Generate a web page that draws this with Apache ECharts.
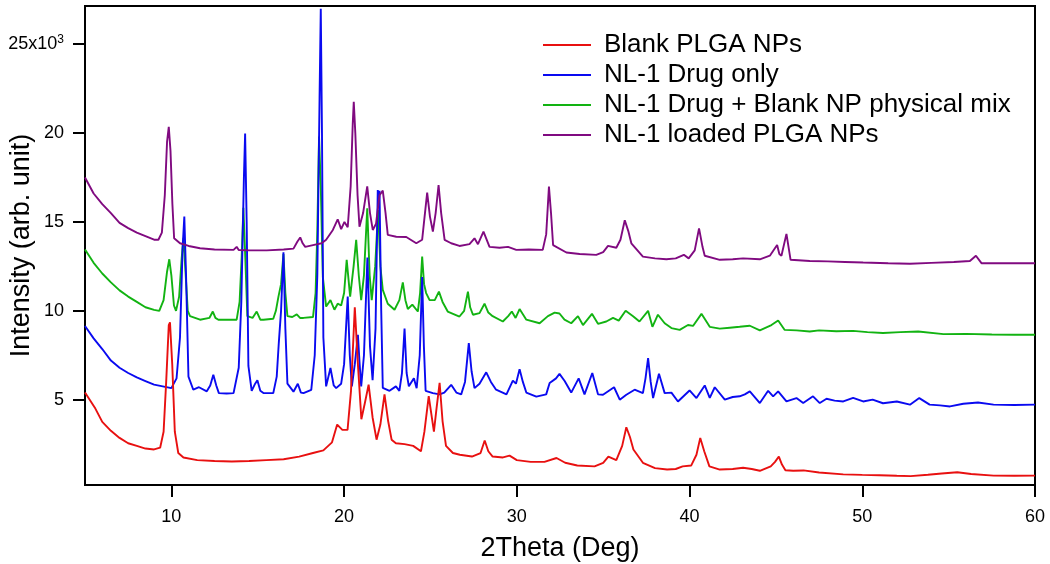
<!DOCTYPE html>
<html>
<head>
<meta charset="utf-8">
<script src="https://cdn.jsdelivr.net/npm/echarts@6/dist/echarts.min.js"></script>
<style>
html,body{margin:0;padding:0;background:#fff;}
#chart{width:1050px;height:564px;}
</style>
</head>
<body>
<div id="chart"></div>
<script>
// 2Theta (deg), intensity (x10^3 counts)
const blankPLGA = [[5,5.4],[5.3,4.95],[5.6,4.5],[6.0,3.75],[6.5,3.25],[7.0,2.85],[7.5,2.55],[8.0,2.4],[8.5,2.25],[9.0,2.2],[9.35,2.3],[9.55,3.2],[9.7,6.0],[9.85,9.2],[9.92,9.35],[10.05,7.0],[10.2,3.2],[10.4,2.0],[10.7,1.75],[11.5,1.6],[12.5,1.55],[13.5,1.52],[14.5,1.55],[15.5,1.6],[16.5,1.65],[17.4,1.8],[18.2,2.0],[18.8,2.15],[19.3,2.6],[19.6,3.6],[19.9,3.3],[20.2,3.3],[20.4,5.5],[20.62,10.2],[20.8,7.0],[21.0,3.9],[21.2,4.8],[21.42,5.85],[21.65,4.0],[21.88,2.75],[22.1,3.6],[22.34,5.3],[22.55,3.8],[22.75,2.75],[23.0,2.55],[23.5,2.5],[24.0,2.4],[24.45,2.1],[24.65,3.2],[24.9,5.2],[25.05,4.2],[25.2,3.2],[25.35,4.5],[25.53,5.95],[25.7,3.8],[25.9,2.4],[26.3,2.0],[26.7,1.9],[27.4,1.8],[27.9,2.0],[28.14,2.7],[28.35,2.1],[28.6,1.8],[29.2,1.75],[29.58,1.85],[30.0,1.6],[30.8,1.5],[31.6,1.5],[32.3,1.72],[32.8,1.45],[33.5,1.3],[34.5,1.25],[35.0,1.45],[35.3,1.8],[35.76,1.6],[36.1,2.4],[36.34,3.45],[36.55,2.9],[36.75,2.2],[37.3,1.45],[38.0,1.15],[38.7,1.07],[39.2,1.1],[39.6,1.25],[40.1,1.3],[40.4,1.9],[40.62,2.85],[40.85,2.1],[41.15,1.25],[41.75,1.07],[42.5,1.1],[43.1,1.17],[43.6,1.1],[44.07,1.0],[44.7,1.25],[44.95,1.5],[45.17,1.8],[45.35,1.35],[45.55,1.03],[46.0,1.0],[46.6,1.02],[47.5,0.9],[48.9,0.8],[50.0,0.77],[51.0,0.75],[52.0,0.72],[52.8,0.7],[53.8,0.78],[54.6,0.85],[55.5,0.92],[56.3,0.82],[57.6,0.73],[58.8,0.72],[60,0.73]];

const drugOnly = [[5,9.15],[5.5,8.45],[6.0,7.85],[6.5,7.2],[7.0,6.8],[7.5,6.5],[8.0,6.25],[8.5,6.05],[9.0,5.85],[9.5,5.75],[10.0,5.65],[10.3,6.2],[10.5,8.5],[10.65,13.5],[10.75,15.3],[10.85,12.0],[10.99,6.3],[11.27,5.56],[11.6,5.7],[12.05,5.47],[12.25,5.8],[12.43,6.4],[12.6,5.8],[12.75,5.37],[13.2,5.35],[13.6,5.37],[13.9,6.8],[14.05,10.5],[14.2,17.5],[14.27,19.98],[14.36,15.0],[14.46,6.9],[14.65,5.5],[14.85,5.9],[14.98,6.1],[15.15,5.5],[15.33,5.37],[15.9,5.37],[16.1,6.3],[16.22,8.2],[16.35,10.0],[16.49,13.3],[16.6,9.0],[16.72,5.9],[17.07,5.45],[17.32,5.9],[17.5,5.4],[17.65,5.37],[18.1,5.55],[18.3,7.5],[18.45,12.0],[18.58,22.0],[18.65,27.0],[18.72,20.0],[18.8,8.5],[18.96,5.75],[19.21,6.78],[19.4,5.8],[19.54,5.65],[19.83,5.9],[20.0,7.0],[20.21,10.8],[20.33,7.5],[20.45,5.75],[20.62,7.0],[20.8,8.65],[20.9,7.0],[20.99,5.75],[21.15,7.5],[21.35,13.0],[21.5,8.0],[21.65,6.1],[21.82,9.0],[21.95,16.8],[22.0,16.2],[22.05,16.75],[22.15,10.0],[22.24,5.67],[22.63,5.5],[23.0,5.75],[23.2,5.5],[23.35,6.5],[23.5,9.0],[23.62,6.5],[23.75,5.75],[24.04,6.2],[24.2,5.65],[24.38,7.5],[24.52,11.9],[24.62,8.0],[24.72,5.5],[25.14,5.37],[25.53,5.3],[25.8,5.4],[26.2,5.84],[26.5,5.4],[26.78,5.3],[27.0,6.0],[27.22,8.18],[27.38,6.6],[27.55,5.65],[27.84,5.9],[28.23,6.54],[28.5,6.0],[28.8,5.56],[29.4,5.3],[29.77,6.07],[29.95,5.9],[30.16,6.72],[30.35,6.0],[30.55,5.4],[31.13,5.17],[31.7,5.3],[31.9,5.94],[32.27,6.2],[32.47,6.45],[32.77,6.05],[33.15,5.4],[33.58,6.2],[33.92,5.3],[34.37,6.5],[34.7,5.3],[34.99,5.28],[35.63,5.7],[35.96,5.0],[36.34,5.28],[36.82,5.56],[37.3,5.37],[37.45,6.2],[37.6,7.34],[37.75,6.0],[37.89,5.09],[38.23,6.46],[38.56,5.37],[38.95,5.4],[39.33,4.9],[40.0,5.52],[40.4,5.09],[40.88,5.8],[41.17,5.1],[41.46,5.7],[42.04,5.0],[42.5,5.15],[42.9,5.19],[43.2,5.3],[43.49,5.47],[44.07,4.81],[44.55,5.5],[44.84,5.19],[45.13,5.47],[45.61,4.9],[46.19,5.09],[46.58,4.81],[47.15,5.19],[47.54,4.81],[47.93,5.05],[48.4,4.95],[48.9,4.9],[49.47,5.1],[50.05,4.9],[50.6,5.0],[51.2,4.8],[52.0,4.9],[52.76,4.72],[53.3,5.09],[53.9,4.72],[54.5,4.68],[55.08,4.62],[55.85,4.77],[56.7,4.84],[57.6,4.72],[58.8,4.7],[60,4.72]];

const physicalMix = [[5,13.45],[5.5,12.7],[6.0,12.1],[6.5,11.6],[7.0,11.15],[7.5,10.8],[8.0,10.5],[8.5,10.2],[9.0,10.05],[9.3,10.0],[9.55,10.6],[9.75,12.2],[9.88,12.9],[10.0,12.0],[10.15,10.3],[10.27,10.0],[10.45,10.8],[10.6,13.0],[10.7,14.1],[10.8,12.5],[10.95,10.0],[11.08,9.7],[11.66,9.5],[12.2,9.6],[12.4,9.96],[12.55,9.6],[12.72,9.5],[13.78,9.5],[13.95,10.5],[14.07,13.0],[14.17,15.8],[14.28,13.0],[14.4,9.7],[14.7,9.6],[14.94,9.96],[15.15,9.5],[15.33,9.5],[15.9,9.55],[16.05,10.0],[16.2,10.8],[16.35,11.5],[16.49,13.2],[16.6,11.0],[16.72,9.7],[17.0,9.65],[17.26,9.8],[17.45,9.6],[17.65,9.6],[18.2,9.65],[18.35,11.0],[18.45,14.5],[18.55,19.8],[18.65,17.0],[18.77,11.9],[18.96,10.24],[19.21,10.6],[19.44,10.06],[19.63,10.4],[19.83,10.3],[20.0,11.0],[20.15,12.87],[20.35,10.8],[20.55,12.5],[20.7,14.0],[20.85,12.0],[20.99,10.6],[21.15,12.0],[21.34,15.77],[21.48,12.0],[21.6,10.6],[21.8,12.5],[21.97,15.67],[22.1,12.5],[22.24,11.18],[22.53,10.4],[22.92,10.06],[23.2,10.6],[23.4,11.6],[23.55,10.6],[23.69,10.1],[23.95,10.35],[24.27,9.96],[24.4,11.0],[24.52,13.05],[24.63,11.5],[24.75,11.0],[24.95,10.6],[25.25,10.6],[25.49,11.08],[25.7,10.5],[26.0,9.96],[26.68,9.68],[26.95,10.0],[27.17,11.08],[27.3,10.2],[27.46,9.78],[27.84,9.87],[28.13,10.4],[28.35,9.9],[28.6,9.7],[29.19,9.4],[29.5,9.7],[29.71,9.96],[29.93,9.6],[30.16,10.1],[30.55,9.5],[31.32,9.3],[31.8,9.7],[32.19,9.9],[32.47,9.85],[32.76,9.5],[33.15,9.3],[33.54,9.7],[33.83,9.2],[34.35,9.83],[34.7,9.27],[35.18,9.4],[35.57,9.6],[35.9,9.45],[36.3,10.0],[36.73,9.7],[37.1,9.4],[37.6,10.0],[37.85,9.1],[38.17,9.78],[38.56,9.3],[38.95,9.03],[39.43,8.93],[39.91,9.2],[40.2,9.15],[40.69,9.83],[41.17,9.1],[41.75,9.0],[42.33,9.05],[42.9,9.1],[43.49,9.16],[44.07,8.9],[44.74,9.2],[45.13,9.46],[45.5,8.93],[46.2,8.9],[46.96,8.84],[47.5,8.9],[48.5,8.85],[49.47,8.87],[50.3,8.8],[51.2,8.75],[52.2,8.8],[53.24,8.84],[54.7,8.69],[56.0,8.7],[57.5,8.67],[58.8,8.65],[60,8.65]];

const loadedNPs = [[5,17.5],[5.5,16.6],[6.0,16.0],[6.5,15.5],[7.0,14.95],[7.5,14.65],[8.0,14.4],[8.5,14.2],[9.0,14.0],[9.25,14.0],[9.45,14.4],[9.62,16.5],[9.75,19.5],[9.85,20.35],[9.95,19.0],[10.06,16.0],[10.16,14.08],[10.5,13.8],[11.0,13.65],[11.66,13.52],[12.5,13.45],[13.6,13.43],[13.78,13.6],[13.9,13.42],[14.5,13.4],[15.52,13.4],[16.5,13.45],[17.07,13.5],[17.3,13.9],[17.46,14.13],[17.6,13.8],[17.75,13.6],[18.2,13.7],[18.7,13.8],[18.96,14.0],[19.35,14.55],[19.63,15.15],[19.83,14.6],[20.02,15.0],[20.21,14.7],[20.38,17.0],[20.5,20.5],[20.56,21.76],[20.65,20.0],[20.78,16.5],[20.89,14.73],[21.1,15.5],[21.34,17.0],[21.5,15.5],[21.66,14.55],[21.85,14.9],[22.05,16.5],[22.24,16.76],[22.4,15.5],[22.53,14.27],[23.02,14.17],[23.6,14.15],[24.18,13.8],[24.52,14.0],[24.65,15.2],[24.81,16.65],[24.97,15.3],[25.14,14.46],[25.3,15.5],[25.47,17.08],[25.62,15.5],[25.82,13.99],[26.2,13.8],[26.68,13.65],[27.26,13.75],[27.55,14.08],[27.75,13.75],[28.07,14.46],[28.42,13.6],[29.0,13.55],[29.49,13.6],[29.97,13.43],[30.7,13.45],[31.5,13.43],[31.7,14.3],[31.86,16.99],[31.98,15.5],[32.1,13.7],[32.87,13.28],[33.64,13.2],[34.6,13.15],[35.0,13.3],[35.28,13.65],[35.76,13.55],[36.0,14.0],[36.25,15.1],[36.45,14.5],[36.63,13.8],[37.3,13.05],[38.0,12.95],[38.66,12.9],[39.2,12.95],[39.67,13.15],[39.95,12.95],[40.3,13.4],[40.55,14.64],[40.75,13.6],[40.88,13.1],[41.75,12.87],[42.5,12.9],[43.1,12.95],[44.07,12.9],[44.65,13.1],[45.07,13.7],[45.2,13.2],[45.32,13.1],[45.61,14.33],[45.85,12.87],[46.96,12.8],[48.0,12.78],[49.0,12.75],[50.05,12.72],[51.5,12.68],[52.76,12.65],[54.0,12.7],[55.3,12.75],[56.23,12.8],[56.58,13.1],[56.9,12.68],[58.0,12.68],[60,12.68]];

const seriesNames = ['Blank PLGA NPs', 'NL-1 Drug only', 'NL-1 Drug + Blank NP physical mix', 'NL-1 loaded PLGA NPs'];
const xTicks = [10, 20, 30, 40, 50, 60];
const yTicks = [5, 10, 15, 20, 25];

const FONT = 'Liberation Sans, Arial, sans-serif';
const chart = echarts.init(document.getElementById('chart'));

function line(name, data, color, z) {
  return {
    name: name, type: 'line', data: data, color: color,
    showSymbol: false, symbol: 'none', z: z,
    lineStyle: { width: 1.9, color: color },
    animation: false
  };
}

chart.setOption({
  animation: false,
  backgroundColor: '#fff',
  grid: { left: 85, right: 15, top: 6, bottom: 79, show: true, borderColor: '#000', borderWidth: 2,
          containLabel: false, outerBoundsMode: 'none' },
  legend: {
    data: seriesNames,
    orient: 'vertical',
    left: 538, top: 27,
    icon: 'rect',
    itemWidth: 48, itemHeight: 2,
    itemGap: 4,
    textStyle: { fontSize: 26, lineHeight: 26, color: '#000', fontFamily: FONT, padding: [0, 0, 0, 8] }
  },
  xAxis: {
    type: 'value', min: 5, max: 60,
    name: '2Theta (Deg)', nameLocation: 'middle', nameGap: 50, nameMoveOverlap: false,
    nameTextStyle: { fontSize: 27, color: '#000', fontFamily: FONT },
    axisLine: { show: true, lineStyle: { color: '#000', width: 2 } },
    axisTick: { show: true, inside: false, length: 12, customValues: xTicks, lineStyle: { color: '#000', width: 2 } },
    axisLabel: { customValues: xTicks, margin: 23, fontSize: 18, color: '#000', fontFamily: FONT },
    splitLine: { show: false }
  },
  yAxis: {
    type: 'value', min: 0.2, max: 27.15,
    name: 'Intensity (arb. unit)', nameLocation: 'middle', nameGap: 50, nameRotate: 90, nameMoveOverlap: false,
    nameTextStyle: { fontSize: 27, color: '#000', fontFamily: FONT },
    axisLine: { show: true, lineStyle: { color: '#000', width: 2 } },
    axisTick: { show: true, inside: false, length: 12, customValues: yTicks, lineStyle: { color: '#000', width: 2 } },
    axisLabel: {
      customValues: yTicks, margin: 21, color: '#000', fontFamily: FONT, fontSize: 18,
      formatter: function (v) { return v === 25 ? '{a|25x10}{s|3}' : '{a|' + v + '}'; },
      rich: {
        a: { fontSize: 18, color: '#000', fontFamily: FONT, lineHeight: 22 },
        s: { fontSize: 12, color: '#000', fontFamily: FONT, verticalAlign: 'top', lineHeight: 12 }
      }
    },
    splitLine: { show: false }
  },
  series: [
    line(seriesNames[2], physicalMix, '#12b312', 2),
    line(seriesNames[1], drugOnly, '#0a0af0', 3),
    line(seriesNames[0], blankPLGA, '#e81010', 4),
    line(seriesNames[3], loadedNPs, '#800a80', 5)
  ]
});
</script>
</body>
</html>
